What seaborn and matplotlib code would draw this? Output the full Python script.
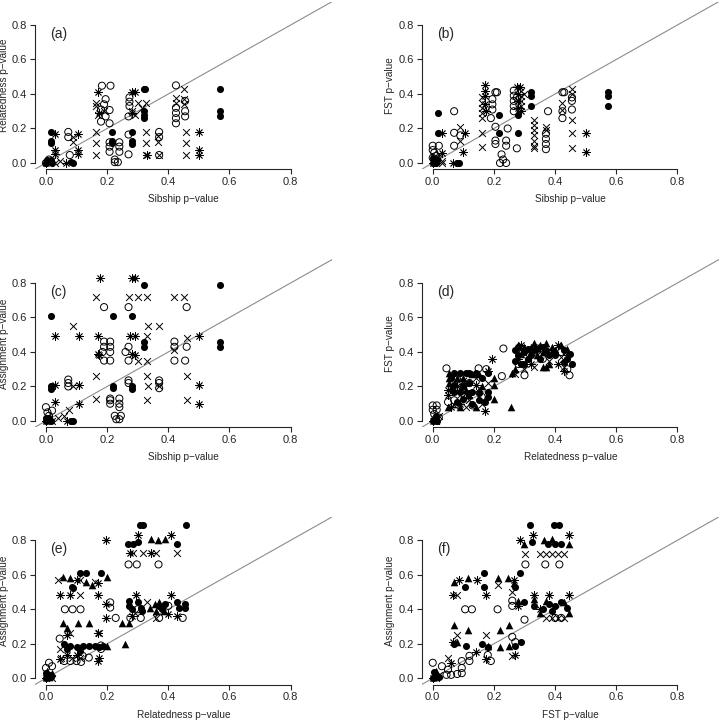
import matplotlib
matplotlib.use("Agg")
import matplotlib.pyplot as plt
from matplotlib.markers import MarkerStyle
import pandas as pd
import seaborn as sns

sns.set_style("ticks")
plt.rcParams["font.family"] = ["Liberation Sans", "DejaVu Sans"]

# ---- (a) sibship vs relatedness ----
A_OPEN = [(0.00, 0.00), (0.01, 0.02), (0.073, 0.18), (0.073, 0.15), (0.078, 0.046),
          (0.183, 0.448), (0.211, 0.448), (0.195, 0.37), (0.19, 0.34), (0.18, 0.31),
          (0.208, 0.307), (0.195, 0.27), (0.18, 0.24), (0.208, 0.23),
          (0.208, 0.12), (0.208, 0.095), (0.208, 0.065), (0.24, 0.12), (0.24, 0.095),
          (0.24, 0.065), (0.225, 0.02), (0.235, 0.005), (0.225, 0.005), (0.27, 0.05),
          (0.273, 0.38), (0.273, 0.355), (0.273, 0.33), (0.27, 0.27), (0.27, 0.165),
          (0.37, 0.18), (0.37, 0.15), (0.37, 0.046),
          (0.425, 0.45), (0.425, 0.32), (0.425, 0.29), (0.425, 0.26), (0.425, 0.23),
          (0.455, 0.36), (0.455, 0.30), (0.455, 0.27)]
A_X = [(0.03, 0.0), (0.045, 0.01), (0.09, 0.12), (0.09, 0.15),
       (0.165, 0.18), (0.165, 0.115), (0.165, 0.046), (0.165, 0.35), (0.165, 0.33),
       (0.17, 0.28), (0.19, 0.30), (0.28, 0.30), (0.30, 0.35), (0.327, 0.35),
       (0.315, 0.32), (0.29, 0.28), (0.327, 0.18), (0.327, 0.115), (0.327, 0.046),
       (0.365, 0.155), (0.365, 0.12), (0.37, 0.046), (0.425, 0.375), (0.425, 0.35),
       (0.452, 0.43), (0.45, 0.37), (0.45, 0.34), (0.457, 0.18), (0.457, 0.115),
       (0.457, 0.046)]
A_AST = [(0.0, 0.0), (0.03, 0.17), (0.03, 0.075), (0.03, 0.05), (0.067, 0.0),
         (0.105, 0.17), (0.105, 0.075), (0.105, 0.05), (0.17, 0.41), (0.175, 0.29),
         (0.28, 0.41), (0.29, 0.41), (0.28, 0.29), (0.33, 0.046),
         (0.5, 0.18), (0.5, 0.075), (0.5, 0.046)]
A_FILL = [(0.0, 0.0), (0.005, 0.02), (0.01, 0.01), (0.02, 0.0), (0.015, 0.015),
          (0.018, 0.18), (0.018, 0.13), (0.018, 0.115), (0.083, 0.005), (0.09, 0.0),
          (0.217, 0.18), (0.217, 0.13), (0.217, 0.115), (0.28, 0.18), (0.28, 0.13),
          (0.28, 0.11), (0.32, 0.43), (0.325, 0.43), (0.32, 0.30), (0.32, 0.28),
          (0.32, 0.26), (0.57, 0.43), (0.57, 0.30), (0.57, 0.27)]
A_TRI = []

# ---- (b) sibship vs FST ----
B_OPEN = [(0.0, 0.10), (0.0, 0.075), (0.005, 0.06), (0.01, 0.04), (0.02, 0.10),
          (0.0, 0.03), (0.015, 0.02), (0.07, 0.30), (0.07, 0.175), (0.07, 0.10),
          (0.09, 0.16), (0.205, 0.41), (0.21, 0.41), (0.195, 0.37), (0.195, 0.34),
          (0.195, 0.31), (0.19, 0.26), (0.205, 0.21), (0.205, 0.13), (0.205, 0.11),
          (0.225, 0.05), (0.23, 0.02), (0.24, 0.0), (0.22, 0.0), (0.24, 0.13),
          (0.24, 0.10), (0.245, 0.2), (0.275, 0.085), (0.265, 0.42), (0.265, 0.39),
          (0.265, 0.36), (0.265, 0.33), (0.265, 0.30), (0.275, 0.38), (0.377, 0.30),
          (0.37, 0.17), (0.37, 0.14), (0.37, 0.11), (0.37, 0.08), (0.424, 0.41),
          (0.43, 0.41), (0.424, 0.30), (0.424, 0.26), (0.455, 0.38), (0.455, 0.36),
          (0.455, 0.31)]
B_X = [(0.03, 0.01), (0.03, 0.0), (0.02, 0.05), (0.09, 0.21), (0.09, 0.13),
       (0.16, 0.38), (0.16, 0.35), (0.16, 0.32), (0.16, 0.29), (0.16, 0.26),
       (0.16, 0.175), (0.16, 0.09), (0.29, 0.42), (0.29, 0.39), (0.29, 0.36),
       (0.29, 0.33), (0.30, 0.40), (0.33, 0.25), (0.33, 0.22), (0.33, 0.19),
       (0.33, 0.16), (0.33, 0.13), (0.33, 0.10), (0.33, 0.085), (0.37, 0.21),
       (0.37, 0.19), (0.424, 0.35), (0.424, 0.31), (0.455, 0.43), (0.455, 0.40),
       (0.455, 0.25), (0.455, 0.175), (0.455, 0.085)]
B_AST = [(0.03, 0.06), (0.03, 0.175), (0.0, 0.0), (0.065, 0.0), (0.104, 0.175),
         (0.1, 0.065), (0.17, 0.45), (0.17, 0.42), (0.17, 0.39), (0.17, 0.34),
         (0.175, 0.30), (0.275, 0.44), (0.285, 0.44), (0.28, 0.40), (0.28, 0.36),
         (0.28, 0.32), (0.29, 0.30), (0.5, 0.175), (0.5, 0.065)]
B_FILL = [(0.0, 0.03), (0.005, 0.01), (0.01, 0.0), (0.0, 0.0), (0.015, 0.02),
          (0.016, 0.29), (0.016, 0.175), (0.08, 0.0), (0.085, 0.0), (0.218, 0.28),
          (0.218, 0.175), (0.28, 0.28), (0.28, 0.175), (0.32, 0.41), (0.32, 0.39),
          (0.32, 0.33), (0.574, 0.41), (0.574, 0.39), (0.574, 0.33)]
B_TRI = []

# ---- (c) sibship vs assignment ----
C_OPEN = [(0.0, 0.08), (0.005, 0.05), (0.01, 0.03), (0.02, 0.06),
          (0.19, 0.66), (0.27, 0.66), (0.46, 0.66), (0.19, 0.46), (0.21, 0.46),
          (0.19, 0.43), (0.21, 0.43), (0.185, 0.40), (0.21, 0.40), (0.19, 0.35),
          (0.21, 0.35), (0.26, 0.40), (0.27, 0.43), (0.27, 0.35), (0.42, 0.46),
          (0.42, 0.43), (0.42, 0.35), (0.46, 0.43), (0.455, 0.35),
          (0.073, 0.24), (0.073, 0.22), (0.073, 0.20), (0.27, 0.235), (0.27, 0.22),
          (0.37, 0.235), (0.37, 0.22), (0.37, 0.19), (0.21, 0.13), (0.21, 0.12),
          (0.21, 0.10), (0.24, 0.13), (0.24, 0.10), (0.24, 0.08), (0.225, 0.03),
          (0.23, 0.01), (0.24, 0.01), (0.245, 0.03)]
C_X = [(0.04, 0.02), (0.02, 0.0), (0.075, 0.065), (0.06, 0.03), (0.165, 0.72),
       (0.27, 0.72), (0.30, 0.72), (0.33, 0.72), (0.42, 0.72), (0.45, 0.72),
       (0.09, 0.55), (0.335, 0.55), (0.37, 0.55), (0.33, 0.49), (0.46, 0.48),
       (0.30, 0.35), (0.33, 0.35), (0.42, 0.41), (0.165, 0.26), (0.33, 0.26),
       (0.46, 0.26), (0.09, 0.20), (0.335, 0.20), (0.37, 0.20), (0.165, 0.13),
       (0.33, 0.12), (0.46, 0.12)]
C_AST = [(0.0, 0.0), (0.07, 0.0), (0.176, 0.83), (0.28, 0.83), (0.29, 0.83),
         (0.03, 0.49), (0.107, 0.49), (0.17, 0.49), (0.276, 0.49), (0.29, 0.49),
         (0.5, 0.49), (0.17, 0.39), (0.175, 0.38), (0.28, 0.39), (0.29, 0.38),
         (0.03, 0.21), (0.107, 0.21), (0.5, 0.21), (0.03, 0.11), (0.107, 0.10),
         (0.5, 0.10)]
C_FILL = [(0.0, 0.0), (0.005, 0.01), (0.01, 0.02), (0.015, 0.0), (0.0, 0.02),
          (0.32, 0.79), (0.57, 0.79), (0.018, 0.61), (0.22, 0.61), (0.28, 0.61),
          (0.32, 0.46), (0.32, 0.43), (0.57, 0.46), (0.57, 0.43), (0.018, 0.20),
          (0.018, 0.185), (0.22, 0.20), (0.22, 0.19), (0.28, 0.20), (0.28, 0.185),
          (0.083, 0.0), (0.09, 0.0)]
C_TRI = []

# ---- (d) relatedness vs FST ----
D_OPEN = [(0.0, 0.09), (0.013, 0.09), (0.0, 0.065), (0.013, 0.065), (0.005, 0.04),
          (0.02, 0.02), (0.045, 0.305), (0.15, 0.305), (0.175, 0.30), (0.08, 0.24),
          (0.12, 0.22), (0.1, 0.20), (0.16, 0.14), (0.07, 0.12), (0.13, 0.09),
          (0.05, 0.11), (0.231, 0.42), (0.226, 0.26), (0.30, 0.265), (0.447, 0.265),
          (0.28, 0.33), (0.33, 0.40), (0.36, 0.36), (0.42, 0.40), (0.44, 0.30)]
D_X = [(0.01, 0.0), (0.02, 0.03), (0.06, 0.26), (0.1, 0.23), (0.14, 0.25),
       (0.09, 0.15), (0.12, 0.12), (0.15, 0.19), (0.18, 0.22), (0.07, 0.09),
       (0.11, 0.08), (0.16, 0.10), (0.29, 0.42), (0.31, 0.37), (0.33, 0.31),
       (0.35, 0.40), (0.38, 0.35), (0.40, 0.42), (0.42, 0.37), (0.43, 0.31),
       (0.30, 0.30), (0.27, 0.27)]
D_AST = [(0.0, 0.0), (0.05, 0.18), (0.05, 0.15), (0.08, 0.20), (0.11, 0.16),
         (0.14, 0.21), (0.17, 0.06), (0.06, 0.08), (0.09, 0.10), (0.193, 0.36),
         (0.18, 0.29), (0.29, 0.44), (0.28, 0.36), (0.32, 0.33), (0.35, 0.43),
         (0.41, 0.44), (0.41, 0.33), (0.43, 0.29), (0.39, 0.40), (0.44, 0.38)]
D_FILL = [(0.0, 0.0), (0.005, 0.01), (0.01, 0.03), (0.015, 0.0),
          (0.07, 0.28), (0.09, 0.28), (0.11, 0.28), (0.12, 0.28), (0.14, 0.28),
          (0.18, 0.28), (0.07, 0.17), (0.09, 0.17), (0.12, 0.16), (0.13, 0.17),
          (0.18, 0.17), (0.18, 0.14), (0.10, 0.13), (0.15, 0.12), (0.08, 0.11),
          (0.17, 0.11), (0.12, 0.22), (0.07, 0.21), (0.06, 0.25), (0.16, 0.25),
          (0.10, 0.20), (0.15, 0.16), (0.13, 0.10),
          (0.27, 0.41), (0.28, 0.38), (0.27, 0.35), (0.29, 0.33), (0.30, 0.40),
          (0.31, 0.36), (0.30, 0.33), (0.33, 0.41), (0.37, 0.41), (0.38, 0.38),
          (0.35, 0.36), (0.28, 0.43), (0.32, 0.38), (0.34, 0.42), (0.36, 0.43),
          (0.40, 0.38), (0.31, 0.42), (0.43, 0.41), (0.45, 0.39), (0.44, 0.36),
          (0.455, 0.33), (0.43, 0.34)]
D_TRI = [(0.005, 0.02), (0.01, 0.005), (0.054, 0.276), (0.054, 0.247),
         (0.054, 0.218), (0.12, 0.28), (0.13, 0.27), (0.10, 0.25), (0.06, 0.19),
         (0.11, 0.18), (0.16, 0.2), (0.05, 0.08), (0.09, 0.08), (0.14, 0.08),
         (0.12, 0.15), (0.08, 0.25), (0.15, 0.27),
         (0.2, 0.25), (0.2, 0.21), (0.2, 0.13), (0.256, 0.08),
         (0.26, 0.28), (0.27, 0.30), (0.28, 0.44), (0.30, 0.43), (0.33, 0.45),
         (0.35, 0.44), (0.37, 0.45), (0.39, 0.43), (0.36, 0.31), (0.37, 0.31),
         (0.29, 0.39), (0.36, 0.40), (0.38, 0.33), (0.40, 0.41), (0.32, 0.43),
         (0.34, 0.38), (0.42, 0.44), (0.44, 0.42)]

# ---- (e) relatedness vs assignment ----
E_OPEN = [(0.0, 0.06), (0.01, 0.09), (0.02, 0.07), (0.27, 0.66), (0.297, 0.66),
          (0.368, 0.66), (0.062, 0.40), (0.087, 0.40), (0.113, 0.40), (0.21, 0.44),
          (0.21, 0.41), (0.228, 0.35), (0.276, 0.35), (0.31, 0.35), (0.37, 0.35),
          (0.447, 0.35), (0.045, 0.23), (0.06, 0.10), (0.08, 0.10), (0.10, 0.10),
          (0.115, 0.095), (0.12, 0.13), (0.18, 0.19), (0.18, 0.17), (0.14, 0.12),
          (0.30, 0.40), (0.40, 0.42)]
E_X = [(0.284, 0.725), (0.317, 0.725), (0.36, 0.725), (0.43, 0.725), (0.04, 0.57),
       (0.11, 0.57), (0.16, 0.56), (0.11, 0.485), (0.36, 0.35), (0.08, 0.26),
       (0.175, 0.26), (0.045, 0.17), (0.05, 0.12), (0.085, 0.12), (0.11, 0.12),
       (0.29, 0.38), (0.33, 0.44), (0.005, 0.02), (0.02, 0.0)]
E_AST = [(0.195, 0.80), (0.30, 0.83), (0.41, 0.83), (0.275, 0.725), (0.345, 0.725),
         (0.045, 0.485), (0.078, 0.485), (0.17, 0.485), (0.10, 0.57), (0.17, 0.55),
         (0.195, 0.43), (0.195, 0.35), (0.295, 0.48), (0.41, 0.48), (0.40, 0.37),
         (0.43, 0.36), (0.045, 0.11), (0.07, 0.135), (0.10, 0.135), (0.17, 0.10),
         (0.175, 0.12), (0.07, 0.25), (0.17, 0.26), (0.0, 0.0), (0.28, 0.36)]
E_FILL = [(0.306, 0.89), (0.317, 0.89), (0.457, 0.89), (0.268, 0.78), (0.284, 0.78),
          (0.30, 0.79), (0.43, 0.78), (0.11, 0.61), (0.13, 0.61), (0.18, 0.61),
          (0.084, 0.53), (0.09, 0.525), (0.27, 0.45), (0.27, 0.42), (0.28, 0.40),
          (0.30, 0.44), (0.31, 0.41), (0.315, 0.39), (0.43, 0.44), (0.435, 0.41),
          (0.455, 0.43), (0.455, 0.41), (0.37, 0.42), (0.38, 0.40), (0.39, 0.43),
          (0.06, 0.20), (0.08, 0.19), (0.10, 0.18), (0.12, 0.19), (0.14, 0.19),
          (0.16, 0.19), (0.175, 0.18), (0.185, 0.19), (0.07, 0.17), (0.11, 0.16),
          (0.0, 0.0), (0.01, 0.02), (0.015, 0.01), (0.0, 0.03)]
E_TRI = [(0.056, 0.59), (0.078, 0.58), (0.2, 0.59), (0.13, 0.56), (0.15, 0.54),
         (0.344, 0.81), (0.366, 0.80), (0.388, 0.81), (0.056, 0.32), (0.104, 0.32),
         (0.141, 0.32), (0.07, 0.29), (0.25, 0.32), (0.27, 0.32), (0.257, 0.20),
         (0.2, 0.19), (0.34, 0.41), (0.355, 0.43), (0.37, 0.44), (0.38, 0.42),
         (0.36, 0.39), (0.385, 0.39), (0.005, 0.04), (0.01, 0.01), (0.0, 0.015),
         (0.02, 0.03)]

# ---- (f) FST vs assignment ----
F_OPEN = [(0.303, 0.66), (0.368, 0.66), (0.414, 0.66), (0.106, 0.40), (0.128, 0.40),
          (0.212, 0.40), (0.26, 0.45), (0.26, 0.42), (0.26, 0.24), (0.27, 0.21),
          (0.30, 0.34), (0.18, 0.135), (0.19, 0.10), (0.05, 0.05), (0.045, 0.02),
          (0.06, 0.02), (0.08, 0.025), (0.095, 0.10), (0.095, 0.06), (0.095, 0.03),
          (0.12, 0.10), (0.12, 0.13), (0.0, 0.09), (0.03, 0.07), (0.40, 0.35),
          (0.42, 0.35)]
F_X = [(0.08, 0.485), (0.215, 0.54), (0.26, 0.50), (0.303, 0.72), (0.35, 0.72),
       (0.37, 0.72), (0.39, 0.72), (0.41, 0.72), (0.43, 0.72), (0.37, 0.35),
       (0.39, 0.35), (0.41, 0.35), (0.43, 0.35), (0.08, 0.25), (0.175, 0.25),
       (0.26, 0.13), (0.05, 0.115), (0.01, 0.0), (0.02, 0.02)]
F_AST = [(0.286, 0.80), (0.328, 0.83), (0.445, 0.83), (0.085, 0.57), (0.144, 0.57),
         (0.265, 0.57), (0.065, 0.485), (0.175, 0.485), (0.33, 0.48), (0.38, 0.48),
         (0.445, 0.48), (0.065, 0.21), (0.175, 0.11), (0.14, 0.155), (0.27, 0.135),
         (0.06, 0.09), (0.28, 0.42), (0.35, 0.40), (0.0, 0.0)]
F_FILL = [(0.319, 0.89), (0.396, 0.89), (0.414, 0.89), (0.324, 0.79), (0.377, 0.78),
          (0.399, 0.78), (0.42, 0.78), (0.286, 0.61), (0.166, 0.61), (0.106, 0.53),
          (0.166, 0.53), (0.27, 0.53), (0.30, 0.44), (0.33, 0.42), (0.36, 0.40),
          (0.38, 0.43), (0.40, 0.42), (0.42, 0.44), (0.44, 0.41), (0.39, 0.39),
          (0.07, 0.20), (0.11, 0.19), (0.16, 0.20), (0.18, 0.18), (0.27, 0.19),
          (0.29, 0.21), (0.0, 0.0), (0.01, 0.02), (0.005, 0.035), (0.02, 0.01)]
F_TRI = [(0.07, 0.56), (0.115, 0.58), (0.215, 0.58), (0.245, 0.58), (0.265, 0.55),
         (0.30, 0.78), (0.365, 0.80), (0.39, 0.81), (0.445, 0.78), (0.07, 0.31),
         (0.115, 0.28), (0.22, 0.28), (0.25, 0.31), (0.28, 0.45), (0.33, 0.46),
         (0.37, 0.45), (0.43, 0.44), (0.445, 0.38), (0.35, 0.38), (0.08, 0.21),
         (0.18, 0.19), (0.22, 0.18), (0.25, 0.19), (0.005, 0.01), (0.01, 0.04)]

PANELS = [
    ("(a)", "Sibship p\u2212value", "Relatedness p\u2212value", A_OPEN, A_X, A_AST, A_FILL, A_TRI),
    ("(b)", "Sibship p\u2212value", "FST p\u2212value", B_OPEN, B_X, B_AST, B_FILL, B_TRI),
    ("(c)", "Sibship p\u2212value", "Assignment p\u2212value", C_OPEN, C_X, C_AST, C_FILL, C_TRI),
    ("(d)", "Relatedness p\u2212value", "FST p\u2212value", D_OPEN, D_X, D_AST, D_FILL, D_TRI),
    ("(e)", "Relatedness p\u2212value", "Assignment p\u2212value", E_OPEN, E_X, E_AST, E_FILL, E_TRI),
    ("(f)", "FST p\u2212value", "Assignment p\u2212value", F_OPEN, F_X, F_AST, F_FILL, F_TRI),
]
TICKS = [0.0, 0.2, 0.4, 0.6, 0.8]
LIM = (-0.036, 0.936)

fig = plt.figure(figsize=(7.2, 7.2), dpi=100)
lefts = [0.0485, 0.5857]
bottoms = [0.765, 0.4067, 0.0493]

open_m = MarkerStyle("o", fillstyle="none")
ast_m = MarkerStyle((8, 2, 0))

for i, (tag, xl, yl, op, xs, ast, fill, tri) in enumerate(PANELS):
    ax = fig.add_axes([lefts[i % 2], bottoms[i // 2], 0.413, 0.2329])
    ax.plot(LIM, LIM, color="#8c8c8c", lw=0.8, zorder=1)

    def draw(pts, **kw):
        if not pts:
            return
        df = pd.DataFrame(pts, columns=["x", "y"])
        sns.scatterplot(data=df, x="x", y="y", ax=ax, color="black", legend=False, zorder=3, **kw)

    draw(op, marker=open_m, s=26, linewidth=0.7)
    draw(xs, marker="x", s=24, linewidth=0.7)
    draw(ast, marker=ast_m, s=30, linewidth=0.6)
    draw(fill, marker="o", s=26, edgecolor="black", linewidth=0)
    draw(tri, marker="^", s=30, edgecolor="black", linewidth=0)

    ax.set_xlim(LIM)
    ax.set_ylim(LIM)
    ax.set_xticks(TICKS)
    ax.set_yticks(TICKS)
    ax.set_xticklabels([f"{t:.1f}" for t in TICKS])
    ax.set_yticklabels([f"{t:.1f}" for t in TICKS])
    ax.tick_params(direction="out", length=3.6, width=0.8, labelsize=8, pad=2)
    for side in ["top", "right"]:
        ax.spines[side].set_visible(False)
    ax.spines["left"].set_bounds(0, 0.8)
    ax.spines["bottom"].set_bounds(0, 0.8)
    ax.spines["left"].set_linewidth(0.8)
    ax.spines["bottom"].set_linewidth(0.8)
    ax.set_xlabel(xl, fontsize=7.2)
    ax.set_ylabel(yl, fontsize=7.2)
    ax.xaxis.set_label_coords(0.5, -0.15)
    ax.yaxis.set_label_coords(-0.088 if i % 2 == 0 else -0.09, 0.5)
    ax.text(0.015, 0.748, tag, fontsize=10, ha="left", va="center")
    ax.set_facecolor("none")

fig.savefig("out.png", dpi=100, facecolor="white")
